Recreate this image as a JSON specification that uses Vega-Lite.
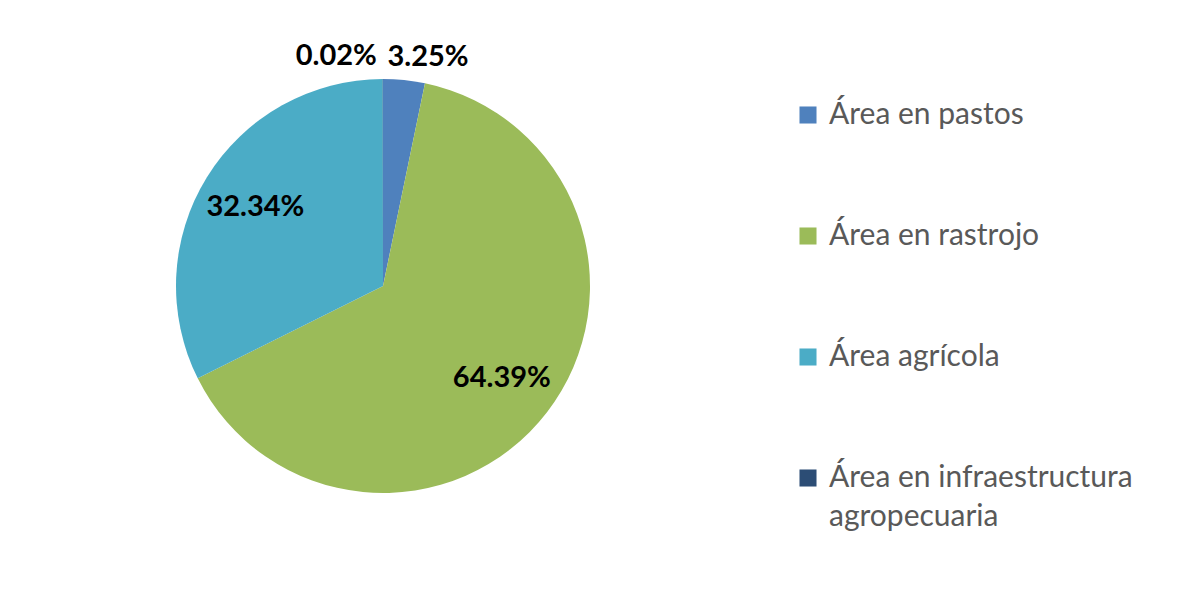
{
  "$schema": "https://vega.github.io/schema/vega-lite/v6.json",
  "width": 754,
  "height": 558,
  "padding": {"left": 6, "top": 7, "right": 0, "bottom": 0},
  "background": "white",
  "config": {"view": {"stroke": null}, "style": {"guide-label": {"lineHeight": 39}}},
  "data": {
    "values": [
      {"categoria": "Área  en pastos", "proporcion": 0.0325, "orden": 1},
      {"categoria": "Área en rastrojo", "proporcion": 0.6439, "orden": 2},
      {"categoria": "Área agrícola", "proporcion": 0.3234, "orden": 3},
      {"categoria": "Área  en infraestructura agropecuaria", "proporcion": 0.0002, "orden": 4}
    ]
  },
  "encoding": {
    "theta": {"field": "proporcion", "type": "quantitative", "stack": true},
    "order": {"field": "orden", "type": "quantitative"}
  },
  "layer": [
    {
      "mark": {"type": "arc", "outerRadius": 207, "stroke": null},
      "encoding": {
        "color": {
          "field": "categoria",
          "type": "nominal",
          "sort": null,
          "scale": {
            "domain": ["Área  en pastos", "Área en rastrojo", "Área agrícola", "Área  en infraestructura agropecuaria"],
            "range": ["#4F81BD", "#9BBB59", "#4BACC6", "#2C4D75"]
          },
          "legend": {
            "title": null,
            "orient": "none",
            "legendX": 787,
            "legendY": 93,
            "symbolType": "square",
            "symbolSize": 290,
            "symbolStrokeWidth": 0,
            "labelFont": "Lato",
            "labelFontSize": 30,
            "labelColor": "#595959",
            "labelOffset": 6,
            "labelLimit": 400,
            "rowPadding": 91,
            "labelExpr": "indexof(datum.label, 'agropecuaria') >= 0 ? ['Área  en infraestructura', 'agropecuaria'] : datum.label"
          }
        }
      }
    },
    {
      "mark": {"type": "text", "radius": 150, "font": "Lato", "fontSize": 29, "fontWeight": "bold", "color": "#000000"},
      "encoding": {
        "text": {"condition": {"test": "datum.proporcion >= 0.05", "field": "proporcion", "type": "quantitative", "format": ".2%"}, "value": ""}
      }
    },
    {
      "mark": {"type": "text", "radius": 230, "align": "left", "dx": -19, "font": "Lato", "fontSize": 29, "fontWeight": "bold", "color": "#000000"},
      "encoding": {
        "text": {"condition": {"test": "datum.orden == 1", "field": "proporcion", "type": "quantitative", "format": ".2%"}, "value": ""}
      }
    },
    {
      "mark": {"type": "text", "radius": 230, "align": "right", "dx": -6, "font": "Lato", "fontSize": 29, "fontWeight": "bold", "color": "#000000"},
      "encoding": {
        "text": {"condition": {"test": "datum.orden == 4", "field": "proporcion", "type": "quantitative", "format": ".2%"}, "value": ""}
      }
    }
  ]
}
